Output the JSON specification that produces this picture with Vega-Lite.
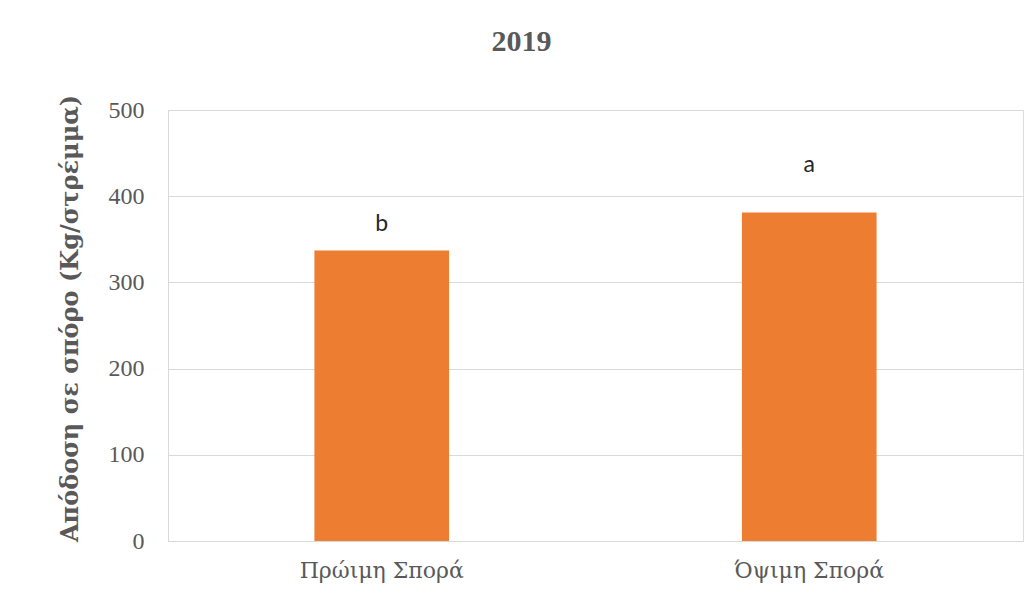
{
  "$schema": "https://vega.github.io/schema/vega-lite/v6.json",
  "width": 855,
  "height": 431,
  "autosize": {"type": "none"},
  "padding": {"left": 168, "top": 110, "right": 1, "bottom": 75},
  "background": "white",
  "title": {
    "text": "2019",
    "font": "Liberation Serif",
    "fontSize": 30,
    "fontWeight": "bold",
    "color": "#595959",
    "anchor": "middle",
    "frame": "group",
    "dx": -74,
    "baseline": "alphabetic",
    "offset": 13
  },
  "data": {
    "values": [
      {"sowing": "Πρώιμη Σπορά", "yield": 337, "letter": "b", "letter_pos": 360},
      {"sowing": "Όψιμη Σπορά", "yield": 381, "letter": "a", "letter_pos": 428}
    ]
  },
  "encoding": {
    "x": {
      "field": "sowing",
      "type": "nominal",
      "sort": null,
      "scale": {"paddingInner": 0.685, "paddingOuter": 0.3425},
      "axis": {
        "title": null,
        "labelAngle": 0,
        "labelFont": "DejaVu Serif",
        "labelFontSize": 22,
        "labelColor": "#595959",
        "labelPadding": 19,
        "ticks": false,
        "domainColor": "#D9D9D9",
        "grid": false
      }
    }
  },
  "layer": [
    {
      "mark": {"type": "bar", "color": "#ED7D31"},
      "encoding": {
        "y": {
          "field": "yield",
          "type": "quantitative",
          "scale": {"domain": [0, 500]},
          "axis": {
            "title": "Απόδοση σε σπόρο (Kg/στρέμμα)",
            "titleFont": "DejaVu Serif",
            "titleFontSize": 24,
            "titleFontWeight": "bold",
            "titleColor": "#595959",
            "titlePadding": 26,
            "titleY": 208,
            "values": [0, 100, 200, 300, 400, 500],
            "labelFont": "Liberation Serif",
            "labelFontSize": 24,
            "labelColor": "#595959",
            "labelPadding": 24,
            "ticks": false,
            "domainColor": "#D9D9D9",
            "gridColor": "#D9D9D9",
            "gridWidth": 1
          }
        }
      }
    },
    {
      "mark": {"type": "text", "font": "Lato", "fontSize": 23, "color": "#262626", "baseline": "alphabetic"},
      "encoding": {
        "y": {"field": "letter_pos", "type": "quantitative"},
        "text": {"field": "letter"}
      }
    }
  ]
}
